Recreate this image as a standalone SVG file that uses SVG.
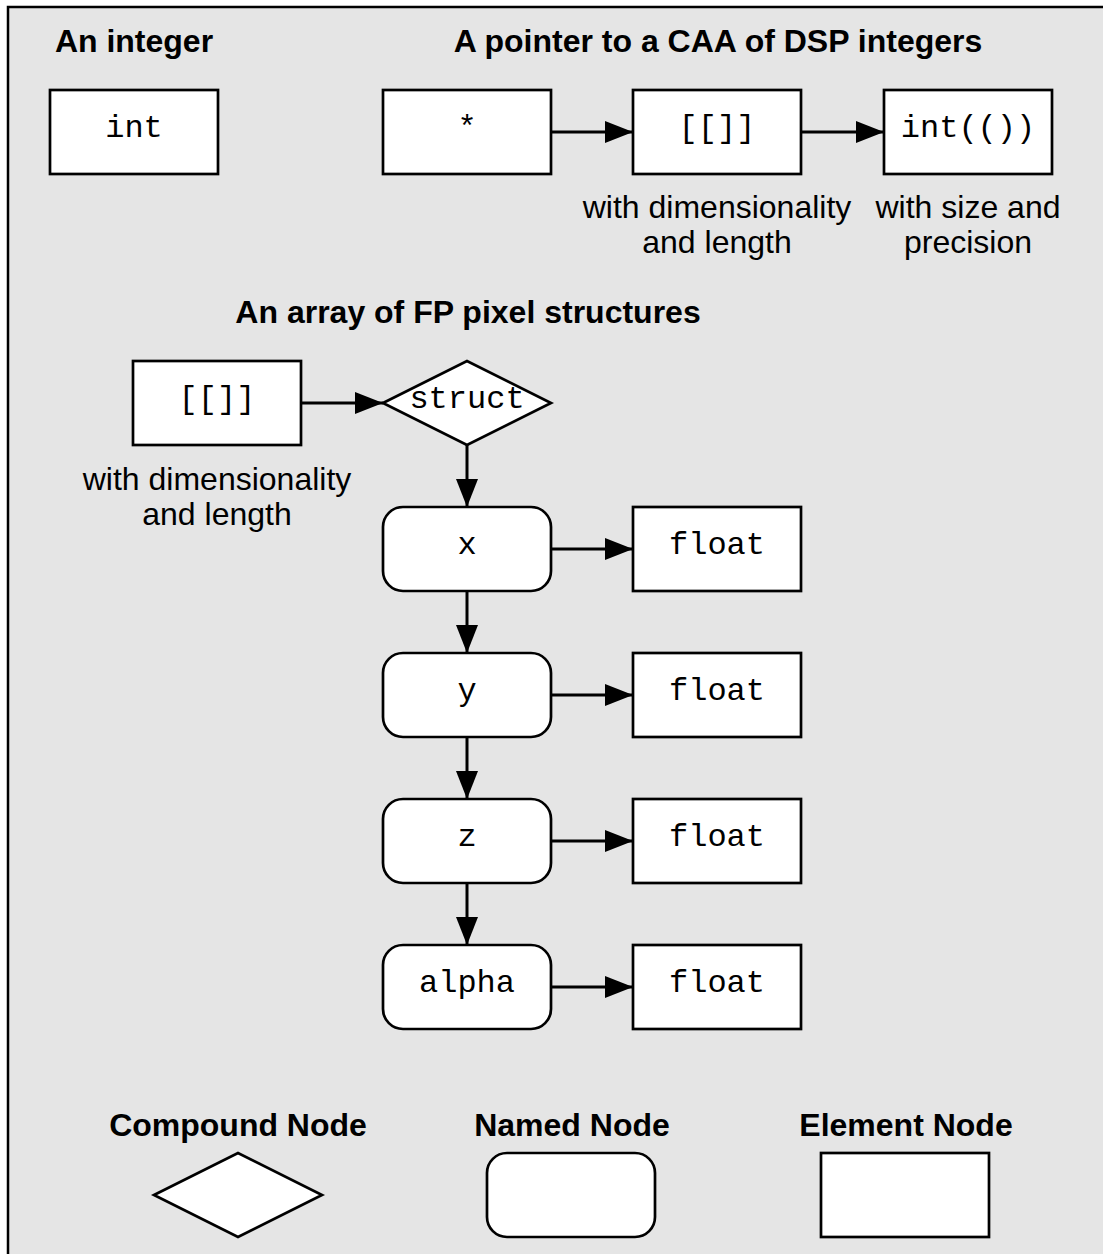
<svg xmlns="http://www.w3.org/2000/svg" width="1103" height="1254" viewBox="0 0 1103 1254">
  <style>
    .title { font-family: "Liberation Sans", Arial, sans-serif; font-weight: bold; font-size: 32px; fill: #000; text-anchor: middle; }
    .note { font-family: "Liberation Sans", Arial, sans-serif; font-size: 32px; fill: #000; text-anchor: middle; }
    .code { font-family: "Liberation Mono", "Courier New", monospace; font-size: 32px; fill: #000; text-anchor: middle; }
    .shape { fill: #fff; stroke: #000; stroke-width: 2.7; }
    .edge { fill: none; stroke: #000; stroke-width: 3; marker-end: url(#arrow); }
  </style>
  <defs>
    <marker id="arrow" markerUnits="userSpaceOnUse" markerWidth="28" markerHeight="22" refX="28" refY="11" orient="auto">
      <path d="M0,0 L28,11 L0,22 Z" fill="#000"/>
    </marker>
  </defs>

  <!-- page background and frame -->
  <rect x="0" y="0" width="1103" height="1254" fill="#fff"/>
  <rect x="8" y="7" width="1100" height="1260" fill="#e5e5e5"/>
  <path d="M8,1254 V7 H1103" fill="none" stroke="#000" stroke-width="2.5"/>

  <!-- section headings -->
  <text class="title" x="134" y="52">An integer</text>
  <text class="title" x="718" y="52">A pointer to a CAA of DSP integers</text>
  <text class="title" x="468" y="323">An array of FP pixel structures</text>

  <!-- connectors -->
  <g id="connectors">
    <line class="edge" x1="551" y1="132" x2="633" y2="132"/>
    <line class="edge" x1="801" y1="132" x2="884" y2="132"/>
    <line class="edge" x1="301" y1="403" x2="383" y2="403"/>
    <line class="edge" x1="467" y1="445" x2="467" y2="507"/>
    <line class="edge" x1="551" y1="549" x2="633" y2="549"/>
    <line class="edge" x1="467" y1="591" x2="467" y2="653"/>
    <line class="edge" x1="551" y1="695" x2="633" y2="695"/>
    <line class="edge" x1="467" y1="737" x2="467" y2="799"/>
    <line class="edge" x1="551" y1="841" x2="633" y2="841"/>
    <line class="edge" x1="467" y1="883" x2="467" y2="945"/>
    <line class="edge" x1="551" y1="987" x2="633" y2="987"/>
  </g>

  <!-- an integer -->
  <g id="int-node">
    <rect class="shape" x="50" y="90" width="168" height="84"/>
    <text class="code" x="134" y="137">int</text>
  </g>

  <!-- a pointer to a CAA of DSP integers -->
  <g id="pointer-node">
    <rect class="shape" x="383" y="90" width="168" height="84"/>
    <text class="code" x="467" y="137">*</text>
  </g>
  <g id="caa-node">
    <rect class="shape" x="633" y="90" width="168" height="84"/>
    <text class="code" x="717" y="137">[[]]</text>
    <text class="note" x="717" y="218">with dimensionality</text>
    <text class="note" x="717" y="253">and length</text>
  </g>
  <g id="dsp-int-node">
    <rect class="shape" x="884" y="90" width="168" height="84"/>
    <text class="code" x="968" y="137">int(())</text>
    <text class="note" x="968" y="218">with size and</text>
    <text class="note" x="968" y="253">precision</text>
  </g>

  <!-- an array of FP pixel structures -->
  <g id="array-node">
    <rect class="shape" x="133" y="361" width="168" height="84"/>
    <text class="code" x="217" y="408">[[]]</text>
    <text class="note" x="217" y="490">with dimensionality</text>
    <text class="note" x="217" y="525">and length</text>
  </g>
  <g id="struct-node">
    <polygon class="shape" points="383,403 467,361 551,403 467,445"/>
    <text class="code" x="467" y="408">struct</text>
  </g>
  <g id="field-x">
    <rect class="shape" x="383" y="507" width="168" height="84" rx="20" ry="20"/>
    <text class="code" x="467" y="554">x</text>
  </g>
  <g id="float-x">
    <rect class="shape" x="633" y="507" width="168" height="84"/>
    <text class="code" x="717" y="554">float</text>
  </g>
  <g id="field-y">
    <rect class="shape" x="383" y="653" width="168" height="84" rx="20" ry="20"/>
    <text class="code" x="467" y="700">y</text>
  </g>
  <g id="float-y">
    <rect class="shape" x="633" y="653" width="168" height="84"/>
    <text class="code" x="717" y="700">float</text>
  </g>
  <g id="field-z">
    <rect class="shape" x="383" y="799" width="168" height="84" rx="20" ry="20"/>
    <text class="code" x="467" y="846">z</text>
  </g>
  <g id="float-z">
    <rect class="shape" x="633" y="799" width="168" height="84"/>
    <text class="code" x="717" y="846">float</text>
  </g>
  <g id="field-alpha">
    <rect class="shape" x="383" y="945" width="168" height="84" rx="20" ry="20"/>
    <text class="code" x="467" y="992">alpha</text>
  </g>
  <g id="float-alpha">
    <rect class="shape" x="633" y="945" width="168" height="84"/>
    <text class="code" x="717" y="992">float</text>
  </g>

  <!-- legend -->
  <g id="legend-compound">
    <text class="title" x="238" y="1136">Compound Node</text>
    <polygon class="shape" points="154,1195 238,1153 322,1195 238,1237"/>
  </g>
  <g id="legend-named">
    <text class="title" x="572" y="1136">Named Node</text>
    <rect class="shape" x="487" y="1153" width="168" height="84" rx="20" ry="20"/>
  </g>
  <g id="legend-element">
    <text class="title" x="906" y="1136">Element Node</text>
    <rect class="shape" x="821" y="1153" width="168" height="84"/>
  </g>
</svg>
